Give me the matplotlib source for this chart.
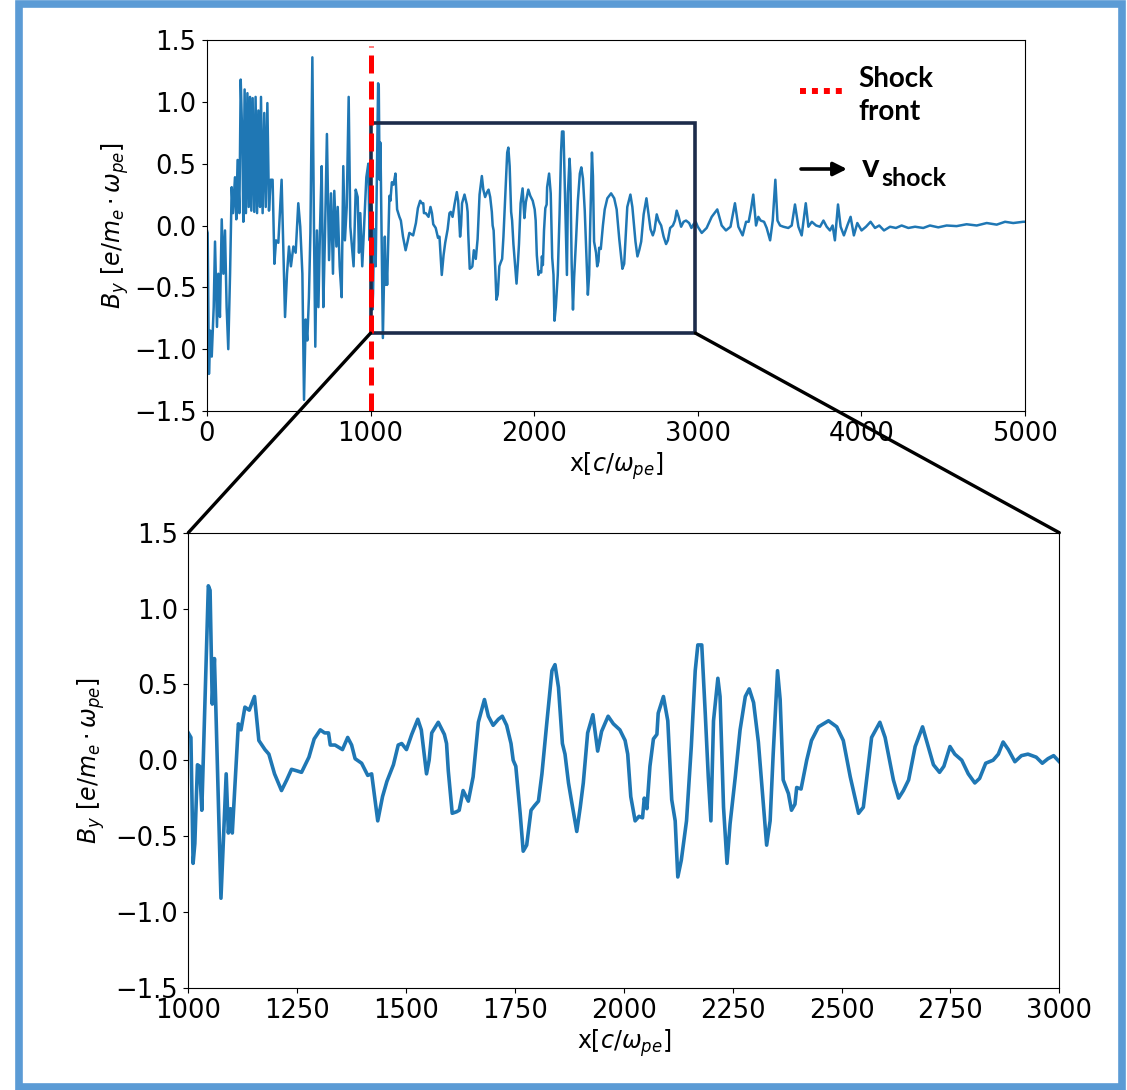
import matplotlib
matplotlib.use("Agg")
import matplotlib.pyplot as plt
from matplotlib.patches import Rectangle, ConnectionPatch
from matplotlib.lines import Line2D

# B_y upstream of the shock, 0-1000 c/w_pe
x_up = [0, 4, 12, 20, 29, 41, 49, 61, 69, 79, 90, 100, 110, 120, 130, 141, 151, 159,
        171, 179, 187, 198, 206, 216, 222, 230, 238, 247, 255, 263, 271, 279, 289,
        297, 306, 314, 324, 330, 340, 350, 359, 369, 379, 389, 401, 412, 422, 436,
        456, 477, 489, 501, 513, 528, 542, 558, 570, 583, 593, 603, 613, 623, 632,
        644, 654, 662, 672, 681, 691, 701, 711, 721, 733, 746, 758, 770, 778, 791,
        799, 811, 823, 833, 843, 854, 866, 876, 886, 896, 909, 921, 929, 937, 949,
        962, 974, 986, 994]
b_up = [-0.04, -0.06, -1.20, -0.85, -1.06, -0.66, -0.13, -0.82, -0.39, -0.74, 0.05,
        -0.39, -0.04, -0.66, -1.00, -0.39, 0.31, 0.10, 0.39, 0.05, 0.53, 0.10, 1.18,
        0.69, 0.03, 1.10, 0.10, 1.07, 0.15, 1.04, 0.12, 1.03, 0.11, 1.04, 0.10, 0.93,
        0.15, 1.04, 0.10, 0.91, 0.15, 0.99, 0.12, 0.37, 0.37, -0.31, -0.12, -0.14,
        0.37, -0.74, -0.39, -0.17, -0.33, -0.17, -0.22, 0.18, -0.01, -0.39, -1.41,
        -0.76, -0.93, -0.58, -0.06, 1.36, -0.04, -0.98, -0.04, -0.66, -0.01, 0.48,
        -0.66, -0.09, 0.74, -0.28, 0.26, -0.39, 0.28, -0.17, 0.15, -0.33, -0.58,
        0.48, -0.12, 0.15, 1.04, -0.01, -0.17, -0.33, 0.29, 0.23, -0.22, 0.10, -0.33,
        0.05, 0.39, 0.50, -0.12]

# zoomed-in region 1000-3000 c/w_pe
x_mid = [1000, 1006, 1011, 1015, 1021, 1026, 1031, 1046, 1050, 1055, 1060, 1063, 1075,
         1087, 1092, 1097, 1101, 1115, 1121, 1130, 1140, 1152, 1162, 1176, 1185, 1198,
         1214, 1226, 1237, 1249, 1260, 1277, 1289, 1303, 1313, 1322, 1326, 1337, 1354,
         1366, 1375, 1383, 1398, 1412, 1421, 1435, 1446, 1456, 1471, 1482, 1490, 1501,
         1513, 1527, 1535, 1547, 1553, 1559, 1574, 1588, 1593, 1597, 1606, 1616, 1622,
         1631, 1643, 1654, 1666, 1680, 1689, 1700, 1712, 1721, 1731, 1741, 1746, 1752,
         1762, 1769, 1777, 1787, 1795, 1804, 1812, 1823, 1835, 1842, 1850, 1859, 1865,
         1873, 1880, 1892, 1900, 1907, 1917, 1929, 1940, 1949, 1964, 1976, 1991, 2003,
         2009, 2016, 2026, 2035, 2043, 2047, 2053, 2060, 2068, 2076, 2079, 2091, 2101,
         2110, 2118, 2124, 2132, 2144, 2155, 2164, 2170, 2179, 2187, 2194, 2200, 2206,
         2216, 2221, 2229, 2237, 2244, 2256, 2267, 2279, 2288, 2298, 2309, 2321, 2328,
         2336, 2343, 2349, 2353, 2359, 2366, 2378, 2385, 2393, 2397, 2407, 2420, 2431,
         2447, 2470, 2489, 2504, 2520, 2539, 2550, 2569, 2588, 2600, 2619, 2631, 2642,
         2654, 2669, 2686, 2699, 2711, 2725, 2735, 2749, 2760, 2776, 2791, 2806, 2817,
         2831, 2848, 2860, 2871, 2883, 2898, 2913, 2928, 2947, 2961, 2974, 2987, 3000]
b_mid = [0.18, 0.15, -0.68, -0.55, -0.03, -0.04, -0.33, 1.15, 1.12, 0.37, 0.67, 0.37,
         -0.91, -0.09, -0.48, -0.32, -0.48, 0.24, 0.20, 0.35, 0.33, 0.42, 0.13, 0.07,
         0.04, -0.09, -0.20, -0.13, -0.06, -0.07, -0.08, 0.02, 0.14, 0.20, 0.18, 0.18,
         0.10, 0.10, 0.07, 0.15, 0.10, 0.01, -0.02, -0.10, -0.09, -0.40, -0.24, -0.14,
         -0.03, 0.10, 0.11, 0.07, 0.17, 0.27, 0.20, -0.09, 0.00, 0.18, 0.25, 0.17, 0.11,
         -0.07, -0.35, -0.34, -0.33, -0.20, -0.27, -0.11, 0.25, 0.40, 0.29, 0.23, 0.27,
         0.29, 0.23, 0.11, 0.00, -0.04, -0.35, -0.60, -0.56, -0.33, -0.30, -0.27, -0.09,
         0.24, 0.59, 0.63, 0.48, 0.11, 0.04, -0.15, -0.27, -0.47, -0.31, -0.15, 0.18,
         0.30, 0.06, 0.19, 0.29, 0.24, 0.20, 0.13, 0.04, -0.24, -0.40, -0.37, -0.38,
         -0.25, -0.32, -0.04, 0.14, 0.17, 0.31, 0.42, 0.26, -0.26, -0.40, -0.77, -0.66,
         -0.40, 0.09, 0.59, 0.76, 0.76, 0.31, -0.11, -0.40, 0.26, 0.54, 0.42, -0.31,
         -0.68, -0.42, -0.11, 0.20, 0.42, 0.47, 0.38, 0.12, -0.31, -0.56, -0.40, 0.04,
         0.37, 0.59, 0.40, -0.13, -0.22, -0.33, -0.29, -0.18, -0.19, 0.00, 0.13, 0.22,
         0.26, 0.22, 0.13, -0.11, -0.35, -0.31, 0.15, 0.25, 0.15, -0.13, -0.25, -0.20,
         -0.13, 0.09, 0.22, 0.09, -0.03, -0.08, -0.04, 0.09, 0.04, 0.00, -0.09, -0.15,
         -0.12, -0.02, 0.00, 0.04, 0.12, 0.07, -0.01, 0.03, 0.04, 0.02, -0.02, 0.01,
         0.03, -0.01]

# downstream, 3000-5000 c/w_pe
x_down = [3024, 3054, 3085, 3119, 3146, 3172, 3200, 3227, 3248, 3274, 3295, 3311, 3325,
          3339, 3356, 3370, 3384, 3405, 3421, 3442, 3458, 3474, 3487, 3503, 3523, 3553,
          3574, 3594, 3615, 3635, 3660, 3676, 3697, 3723, 3747, 3768, 3788, 3808, 3824,
          3838, 3857, 3873, 3893, 3914, 3934, 3954, 3975, 4001, 4028, 4056, 4083, 4109,
          4138, 4175, 4211, 4246, 4287, 4328, 4378, 4419, 4470, 4521, 4582, 4643, 4705,
          4766, 4827, 4878, 4928, 4989, 5000]
b_down = [-0.06, -0.02, 0.07, 0.13, 0.00, -0.04, -0.01, 0.18, -0.01, -0.08, 0.03, 0.03,
          0.13, 0.25, 0.00, 0.07, 0.04, 0.03, -0.02, -0.12, 0.04, 0.37, 0.04, 0.00,
          -0.01, -0.02, 0.00, 0.17, -0.01, -0.08, 0.18, -0.01, 0.03, 0.00, -0.01, 0.04,
          -0.01, -0.04, 0.00, -0.12, 0.17, -0.01, -0.08, 0.00, 0.07, -0.08, 0.02, -0.04,
          -0.01, 0.03, -0.02, 0.00, -0.04, -0.01, -0.02, 0.00, -0.02, -0.01, -0.02, 0.00,
          -0.015, 0.00, -0.005, 0.01, 0.00, 0.02, 0.007, 0.03, 0.02, 0.03, 0.03]

x_all = x_up + x_mid + x_down
b_all = b_up + b_mid + b_down

shock_x = 1000
box_x = [1000, 2985]
box_y = [-0.87, 0.83]

ylab = r'$B_y\ [e/m_e \cdot \omega_{pe}]$'
xlab = r'x[$c/\omega_{pe}$]'

W, H = 1127, 1090
fig = plt.figure(figsize=(W / 100, H / 100), dpi=100)

# full simulation box
ax1 = fig.add_axes([207 / W, 1 - 411 / H, 818 / W, 371 / H])
ax1.plot(x_all, b_all, color='#1f77b4', lw=1.8)
ax1.set_xlim(0, 5000)
ax1.set_ylim(-1.5, 1.5)
ax1.set_xticks([0, 1000, 2000, 3000, 4000, 5000])
ax1.set_yticks([-1.5, -1.0, -0.5, 0.0, 0.5, 1.0, 1.5])
ax1.tick_params(labelsize=18.5, pad=4)
ax1.set_xlabel(xlab, fontsize=17, labelpad=2)
ax1.set_ylabel(ylab, fontsize=17, labelpad=2)

ax1.add_patch(Rectangle((box_x[0], box_y[0]), box_x[1] - box_x[0], box_y[1] - box_y[0],
                        fill=False, ec='#1c2b4a', lw=2.6, zorder=4))
ax1.plot([shock_x, shock_x], [-1.5, 1.45], color='red', lw=3.6,
         ls=(0, (3.6, 1.6)), zorder=5, solid_capstyle='butt')

# zoom on the shock transition
ax2 = fig.add_axes([188.3 / W, 1 - 987.7 / H, 871 / W, 455 / H])
ax2.plot(x_mid, b_mid, color='#1f77b4', lw=2.6)
ax2.set_xlim(1000, 3000)
ax2.set_ylim(-1.5, 1.5)
ax2.set_xticks(range(1000, 3001, 250))
ax2.set_yticks([-1.5, -1.0, -0.5, 0.0, 0.5, 1.0, 1.5])
ax2.tick_params(labelsize=18.5, pad=4)
ax2.set_xlabel(xlab, fontsize=17, labelpad=2)
ax2.set_ylabel(ylab, fontsize=17, labelpad=6)

for xa, xb in [(box_x[0], 1000), (box_x[1], 3000)]:
    con = ConnectionPatch(xyA=(xa, box_y[0]), coordsA=ax1.transData,
                          xyB=(xb, 1.5), coordsB=ax2.transData,
                          color='black', lw=2.4, zorder=10)
    fig.add_artist(con)

# annotations
bold = dict(family='Lato', fontweight='bold', color='black')
fig.text(858 / W, 1 - 87 / H, 'Shock', fontsize=20, va='baseline', **bold)
fig.text(858 / W, 1 - 120 / H, 'front', fontsize=20, va='baseline', **bold)
fig.add_artist(Line2D([800 / W, 845 / W], [1 - 91 / H, 1 - 91 / H], color='red', lw=4.3,
                      ls=(0, (1, 1)), solid_capstyle='butt', dash_capstyle='butt'))
fig.add_artist(plt.Annotation('', xy=(847, H - 169), xytext=(801, H - 169),
                              xycoords='figure pixels',
                              arrowprops=dict(arrowstyle='-|>', lw=2.6, color='black',
                                              mutation_scale=20, shrinkA=0, shrinkB=0)))
fig.text(862 / W, 1 - 177 / H, 'v', fontsize=24, va='baseline', **bold)
fig.text(881 / W, 1 - 186 / H, 'shock', fontsize=18, va='baseline', **bold)

# slide frame
fig.add_artist(Rectangle((18.5 / W, 3 / H), (1122 - 18.5) / W, (1086 - 3) / H,
                         transform=fig.transFigure, fill=False, ec='#5b9bd5', lw=5.5))

fig.savefig('out.png', dpi=100)
